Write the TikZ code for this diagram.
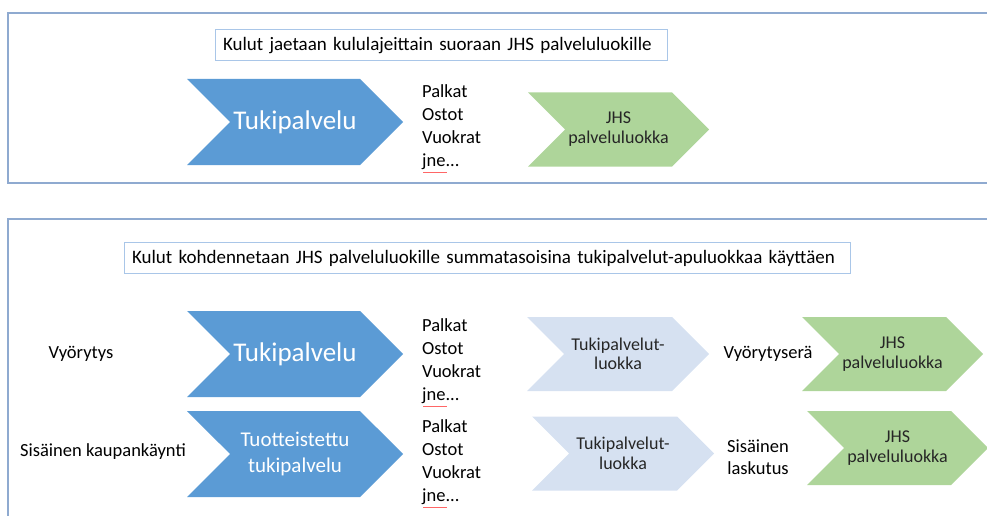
\documentclass[tikz,border=0pt]{standalone}
\usepackage{fontspec}
\setmainfont{Carlito}
\usepackage{tikz}
\usetikzlibrary{shapes.symbols}
\usepackage{xcolor}

\definecolor{frameblue}{HTML}{8FAAD0}
\definecolor{boxblue}{HTML}{A9C6E8}
\definecolor{tukiblue}{HTML}{5B9BD5}
\definecolor{apublue}{HTML}{D6E1F1}
\definecolor{jhsgreen}{HTML}{AED59A}

\tikzset{
  chev/.style={signal, signal from=west, signal to=east, signal pointer angle=90,
    inner sep=0pt, align=center, minimum width=216pt, minimum height=86pt},
  tuki/.style={chev, fill=tukiblue, text=white},
  apu/.style={chev, fill=apublue, text=black!85, minimum width=182pt, minimum height=74pt,
    font=\fontsize{18}{19.5}\selectfont},
  jhs/.style={chev, fill=jhsgreen, text=black!85, minimum width=181pt, minimum height=74pt,
    font=\fontsize{18}{20}\selectfont},
  otsikko/.style={draw=boxblue, line width=1pt, minimum height=31pt, inner xsep=8pt,
    align=left, font=\fontsize{19}{22}\selectfont},
  kulut/.style={align=left, anchor=west, inner sep=0pt, font=\fontsize{18.5}{23}\selectfont},
  selite/.style={align=center, font=\fontsize{18.5}{22}\selectfont}
}

\begin{document}
\begin{tikzpicture}[x=1pt,y=-1pt]

    \useasboundingbox (0,0) rectangle (987,516);

    % kehykset
    \draw[frameblue, line width=1.5pt] (987,13) -- (8,13) -- (8,183) -- (987,183);
    \draw[frameblue, line width=1.5pt] (987,219) -- (8,219) -- (8,516);

    % ylempi osa
    \node[otsikko, text width=436pt] (Ots1) at (441,45.5) {Kulut jaetaan kululajeittain suoraan JHS palveluluokille};

    \node[tuki, font=\fontsize{27}{30}\selectfont] (Tuki1) at (295,122) {Tukipalvelu};
    \node[kulut] (Kul1) at (422,127) {Palkat\\Ostot\\Vuokrat\\jne...};
    \node[jhs] (Jhs1) at (618.5,129.5) {JHS\\palveluluokka};

    % alempi osa
    \node[otsikko, text width=710pt] (Ots2) at (487,258) {Kulut kohdennetaan JHS palveluluokille summatasoisina tukipalvelut-apuluokkaa käyttäen};

    \node[selite] (Vyo) at (81,354) {Vyörytys};
    \node[tuki, font=\fontsize{27}{30}\selectfont] (Tuki2) at (295,354) {Tukipalvelu};
    \node[kulut] (Kul2) at (422,361) {Palkat\\Ostot\\Vuokrat\\jne...};
    \node[apu] (Apu2) at (618,354) {Tukipalvelut-\\luokka};
    \node[selite] (VyoEra) at (768,354) {Vyörytyserä};
    \node[jhs] (Jhs2) at (892.5,354) {JHS\\palveluluokka};

    \node[selite] (Sis) at (103,452) {Sisäinen kaupankäynti};
    \node[tuki, font=\fontsize{21}{26}\selectfont] (Tuki3) at (295,454) {Tuotteistettu\\tukipalvelu};
    \node[kulut] (Kul3) at (422,462) {Palkat\\Ostot\\Vuokrat\\jne...};
    \node[apu] (Apu3) at (623,453.5) {Tukipalvelut-\\luokka};
    \node[selite] (SisLas) at (758,457) {Sisäinen\\laskutus};
    \node[jhs] (Jhs3) at (897.5,448) {JHS\\palveluluokka};

    % oikoluvun alleviivaukset
    \draw[red!60, line width=0.6pt] ([xshift=1pt,yshift=-3pt]Kul1.south west) -- ++(24,0);
    \draw[red!60, line width=0.6pt] ([xshift=1pt,yshift=-3pt]Kul2.south west) -- ++(24,0);
    \draw[red!60, line width=0.6pt] ([xshift=1pt,yshift=-3pt]Kul3.south west) -- ++(24,0);

\end{tikzpicture}
\end{document}
